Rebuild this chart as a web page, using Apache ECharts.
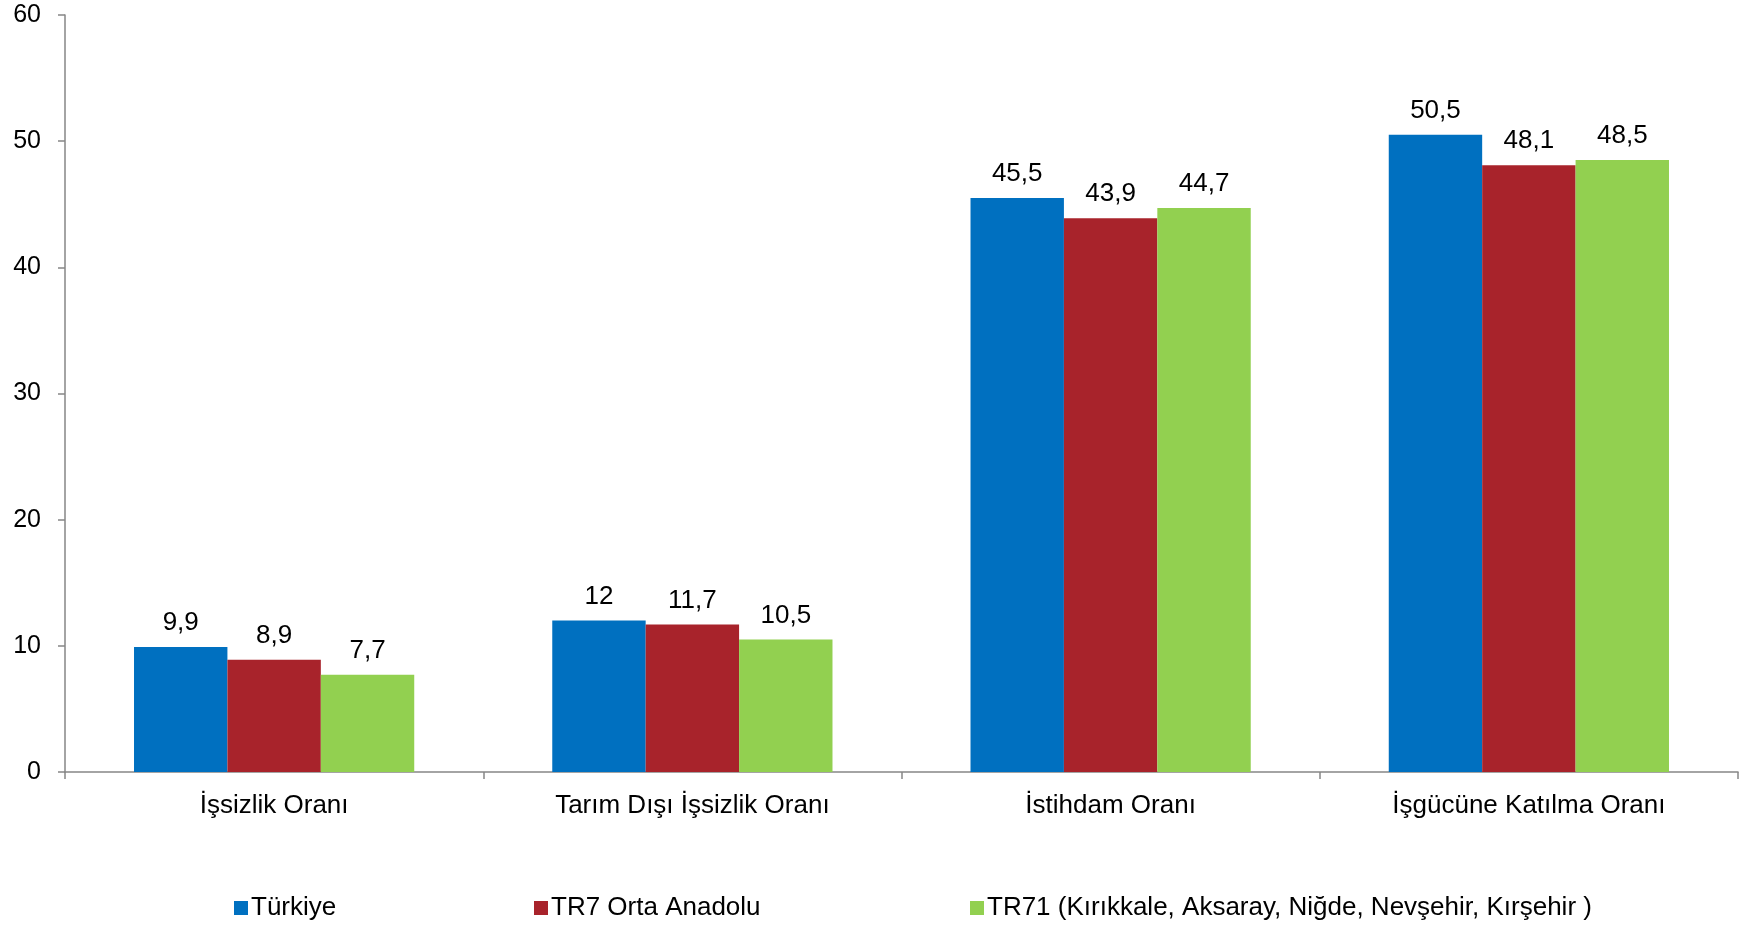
<!DOCTYPE html>
<html>
<head>
<meta charset="utf-8">
<script src="https://cdn.jsdelivr.net/npm/echarts@6/dist/echarts.min.js"></script>
<style>html,body{margin:0;padding:0;background:#fff;}#c{width:1740px;height:926px;}</style>
</head>
<body>
<div id="c"></div>
<script>
var categories = ['İşsizlik Oranı', 'Tarım Dışı İşsizlik Oranı', 'İstihdam Oranı', 'İşgücüne Katılma Oranı'];
var seriesNames = ['Türkiye', 'TR7 Orta Anadolu', 'TR71 (Kırıkkale, Aksaray, Niğde, Nevşehir, Kırşehir )'];
var turkiye = [9.9, 12, 45.5, 50.5];
var tr7 = [8.9, 11.7, 43.9, 48.1];
var tr71 = [7.7, 10.5, 44.7, 48.5];
var yTicks = [0, 10, 20, 30, 40, 50, 60];

var colors = ['#0070C0', '#A8232B', '#92D050'];
var font = 'Liberation Sans, Arial, sans-serif';
var chart = echarts.init(document.getElementById('c'));
function fmt(v){ return String(v).replace('.', ','); }
function mk(name, data, color){
  return {
    name: name, type: 'bar', data: data, barGap: '0%', barCategoryGap: '33%',
    itemStyle: {color: color},
    label: {show: true, position: 'top', distance: 11, color: '#000', fontSize: 26, fontFamily: font,
      formatter: function(p){ return fmt(p.value); }}
  };
}
var legendLefts = [229, 529, 965];
chart.setOption({
  animation: false,
  color: colors,
  grid: {left: 65, right: 2, top: 15, bottom: 154, containLabel: false},
  legend: seriesNames.map(function(n, i){
    return {data: [n], left: legendLefts[i], top: 890, itemWidth: 14, itemHeight: 14, itemGap: 0,
      icon: 'rect', textStyle: {fontSize: 26, fontFamily: font, color: '#000', padding: [0,0,0,-2]}};
  }),
  xAxis: {
    type: 'category', data: categories,
    axisLine: {lineStyle: {color: '#868686', width: 1.5}},
    axisTick: {show: true, length: 7, lineStyle: {color: '#868686', width: 1.5}},
    axisLabel: {color: '#000', fontSize: 26, fontFamily: font, margin: 21}
  },
  yAxis: {
    type: 'value', min: yTicks[0], max: yTicks[yTicks.length-1], interval: 10,
    splitLine: {show: false},
    axisLine: {show: true, lineStyle: {color: '#868686', width: 1.5}},
    axisTick: {show: true, length: 7, lineStyle: {color: '#868686', width: 1.5}},
    axisLabel: {color: '#000', fontSize: 25, fontFamily: font, margin: 24}
  },
  series: [mk(seriesNames[0], turkiye, colors[0]), mk(seriesNames[1], tr7, colors[1]), mk(seriesNames[2], tr71, colors[2])]
});
</script>
</body>
</html>
